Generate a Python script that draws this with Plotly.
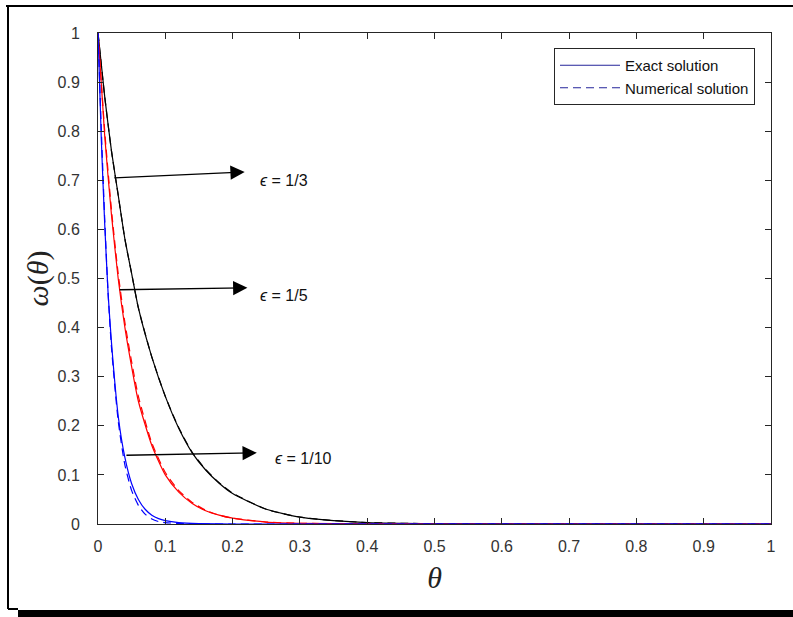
import plotly.graph_objects as go

# ---- data ----
theta_third = [0, 0.01, 0.02, 0.03, 0.04, 0.05, 0.06, 0.08, 0.10, 0.12, 0.14, 0.16, 0.18, 0.20, 0.25, 0.30, 0.35, 0.40, 0.45, 0.50, 1.0]
exact_third = [1, 0.87, 0.76, 0.67, 0.58, 0.51, 0.44, 0.34, 0.26, 0.195, 0.145, 0.11, 0.083, 0.062, 0.030, 0.014, 0.007, 0.003, 0.0015, 0.0007, 0]
num_third = [1, 0.87, 0.76, 0.67, 0.58, 0.51, 0.44, 0.34, 0.26, 0.196, 0.146, 0.111, 0.084, 0.063, 0.030, 0.014, 0.007, 0.003, 0.0015, 0.0007, 0]

theta_fifth = [0, 0.01, 0.02, 0.03, 0.04, 0.05, 0.06, 0.08, 0.10, 0.12, 0.14, 0.16, 0.18, 0.20, 0.25, 0.30, 0.40, 0.50, 1.0]
exact_fifth = [1, 0.79, 0.63, 0.50, 0.40, 0.32, 0.25, 0.16, 0.10, 0.065, 0.042, 0.027, 0.018, 0.012, 0.004, 0.0015, 0.0003, 0, 0]
num_fifth = [1, 0.80, 0.64, 0.51, 0.41, 0.33, 0.26, 0.165, 0.105, 0.068, 0.044, 0.028, 0.018, 0.012, 0.004, 0.0015, 0.0003, 0, 0]

theta_tenth = [0, 0.005, 0.01, 0.015, 0.02, 0.03, 0.04, 0.05, 0.06, 0.07, 0.08, 0.09, 0.10, 0.12, 0.15, 0.20, 1.0]
exact_tenth = [1, 0.78, 0.61, 0.47, 0.37, 0.22, 0.135, 0.082, 0.05, 0.03, 0.018, 0.011, 0.007, 0.003, 0.001, 0, 0]
num_tenth = [1, 0.80, 0.62, 0.47, 0.36, 0.21, 0.12, 0.068, 0.038, 0.02, 0.01, 0.005, 0.003, 0.001, 0, 0, 0]

x_ticks = [0, 0.1, 0.2, 0.3, 0.4, 0.5, 0.6, 0.7, 0.8, 0.9, 1]
y_ticks = [0, 0.1, 0.2, 0.3, 0.4, 0.5, 0.6, 0.7, 0.8, 0.9, 1]
x_tick_labels = ["0", "0.1", "0.2", "0.3", "0.4", "0.5", "0.6", "0.7", "0.8", "0.9", "1"]
y_tick_labels = ["0", "0.1", "0.2", "0.3", "0.4", "0.5", "0.6", "0.7", "0.8", "0.9", "1"]

labels = ["<i>ϵ</i> = 1/3", "<i>ϵ</i> = 1/5", "<i>ϵ</i> = 1/10"]
arrow_tail = [(0.022, 0.705), (0.030, 0.477), (0.040, 0.140)]
arrow_tip = [(0.218, 0.717), (0.222, 0.481), (0.236, 0.145)]
label_pos = [(0.238, 0.700), (0.238, 0.466), (0.260, 0.134)]

DASH = "8px,5px"
fig = go.Figure()

series = [
    (theta_third, exact_third, num_third, "#000000"),
    (theta_fifth, exact_fifth, num_fifth, "#ff0000"),
    (theta_tenth, exact_tenth, num_tenth, "#0000ff"),
]
for th, ex, nu, col in series:
    fig.add_trace(go.Scatter(x=th, y=ex, mode="lines", line=dict(color=col, width=1.2, shape="spline", smoothing=0.6),
                             showlegend=False, hoverinfo="skip"))
    fig.add_trace(go.Scatter(x=th, y=nu, mode="lines", line=dict(color=col, width=1.2, dash=DASH, shape="spline", smoothing=0.6),
                             showlegend=False, hoverinfo="skip"))

LEG = "#24249a"
fig.add_trace(go.Scatter(x=[None], y=[None], mode="lines", line=dict(color=LEG, width=1.2), name="Exact solution"))
fig.add_trace(go.Scatter(x=[None], y=[None], mode="lines", line=dict(color=LEG, width=1.2, dash=DASH), name="Numerical solution"))

for (tx, ty), (hx, hy), (lx, ly), lab in zip(arrow_tail, arrow_tip, label_pos, labels):
    fig.add_annotation(x=hx, y=hy, ax=tx, ay=ty, xref="x", yref="y", axref="x", ayref="y",
                       text="", showarrow=True, arrowhead=2, arrowsize=2.2, arrowwidth=1.3,
                       arrowcolor="#000000", standoff=0, startstandoff=0)
    fig.add_annotation(x=lx, y=ly, xref="x", yref="y", text=lab, showarrow=False,
                       xanchor="left", yanchor="middle",
                       font=dict(family="Liberation Sans, Arial, sans-serif", size=16, color="#111111"))

L, R, T, B = 98, 22, 33, 93
W, H = 793, 617
pw, ph = W - L - R, H - T - B

def px(x):
    return (x - L) / pw

def py(y):
    return (H - B - y) / ph

shapes = [
    dict(type="line", xref="paper", yref="paper", x0=px(6), x1=px(793), y0=py(6), y1=py(6),
         line=dict(color="#000000", width=2)),
    dict(type="line", xref="paper", yref="paper", x0=px(8), x1=px(8), y0=py(6), y1=py(609),
         line=dict(color="#000000", width=2)),
    dict(type="line", xref="paper", yref="paper", x0=px(8), x1=px(18), y0=py(609), y1=py(609),
         line=dict(color="#000000", width=2)),
    dict(type="rect", xref="paper", yref="paper", x0=px(18), x1=px(793), y0=py(610), y1=py(617),
         line=dict(width=0), fillcolor="#000000"),
]

axis_common = dict(showgrid=False, zeroline=False, showline=True, linecolor="#262626", linewidth=1,
                   mirror="allticks", ticks="inside", ticklen=6, tickcolor="#262626",
                   tickfont=dict(family="Liberation Sans, Arial, sans-serif", size=16, color="#333333"))

fig.update_layout(
    width=W, height=H,
    margin=dict(l=L, r=R, t=T, b=B),
    paper_bgcolor="white", plot_bgcolor="white",
    shapes=shapes,
    xaxis=dict(range=[0, 1], tickvals=x_ticks, ticktext=x_tick_labels, ticklabelstandoff=8,
               title=dict(text="<i>θ</i>", font=dict(family="Liberation Serif, serif", size=30, color="#222222"), standoff=12),
               **axis_common),
    yaxis=dict(range=[0, 1], tickvals=y_ticks, ticktext=y_tick_labels, ticklabelstandoff=14,
               title=dict(text="<i>ω</i>(<i>θ</i>)", font=dict(family="Liberation Serif, serif", size=30, color="#222222"), standoff=0),
               **axis_common),
    legend=dict(x=(755 - L) / pw, y=py(48), xanchor="right", yanchor="top",
                bgcolor="white", bordercolor="#262626", borderwidth=1,
                font=dict(family="Liberation Sans, Arial, sans-serif", size=15, color="#111111"),
                itemwidth=60, tracegroupgap=0),
)

fig.write_html("out.html", config={"displayModeBar": False},
               post_script="document.body.style.margin='0';document.body.style.overflow='hidden';")
